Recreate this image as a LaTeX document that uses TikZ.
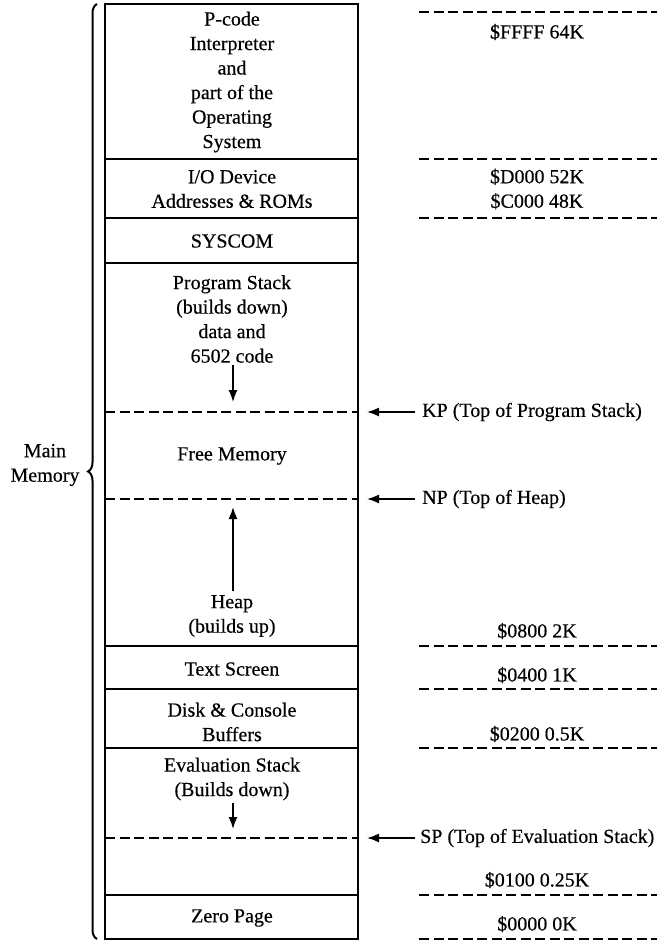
\documentclass[tikz,border=0pt]{standalone}
\usepackage{fontspec}
\setmainfont{Liberation Serif}[FakeBold=0.4]
\usetikzlibrary{decorations.pathreplacing,arrows.meta}
\begin{document}
\begin{tikzpicture}[x=1pt,y=-1pt,
  txt/.style={font=\fontsize{20}{24.5}\selectfont, align=center, inner sep=0pt},
  boxline/.style={line width=2pt},
  dline/.style={line width=1.8pt, dash pattern=on 10pt off 4.5pt},
  arr/.style={line width=1.6pt,-{Latex[length=12pt,width=9pt]}}]
\useasboundingbox (0,0) rectangle (663,942);

% main column
\draw[boxline] (105,4) rectangle (358,939);
\foreach \yy in {159,218,263,646,689,748,895}
  \draw[boxline] (105,\yy) -- (358,\yy);
\foreach \yy in {412,499,838}
  \draw[dline] (105,\yy) -- (358,\yy);

% right-hand address dashes
\foreach \yy in {12,159,218,646,689,748,895,939}
  \draw[dline] (419,\yy) -- (657,\yy);

% box texts
\node[txt] (pcode) at (232,82) {P-code\\Interpreter\\and\\part of the\\Operating\\System};
\node[txt] (io) at (232,189) {I/O Device\\Addresses \& ROMs};
\node[txt] (syscom) at (232,241) {SYSCOM};
\node[txt] (pstack) at (232,319) {Program Stack\\(builds down)\\data and\\6502 code};
\node[txt] (free) at (232,456) {Free Memory};
\node[txt] (heap) at (232,616) {Heap\\(builds up)};
\node[txt] (tscreen) at (232,669) {Text Screen};
\node[txt] (disk) at (232,722) {Disk \& Console\\Buffers};
\node[txt] (eval) at (232,779) {Evaluation Stack\\(Builds down)};
\node[txt] (zero) at (232,918) {Zero Page};

% address labels
\node[txt] (aFFFF) at (537,32) {\$FFFF 64K};
\node[txt] (aD000) at (537,189) {\$D000 52K\\\$C000 48K};
\node[txt] (a0800) at (537,631) {\$0800 2K};
\node[txt] (a0400) at (537,675) {\$0400 1K};
\node[txt] (a0200) at (537,734) {\$0200 0.5K};
\node[txt] (a0100) at (537,880) {\$0100 0.25K};
\node[txt] (a0000) at (537,924) {\$0000 0K};

% pointer labels
\node[txt, anchor=west] (kp) at (422,412) {KP (Top of Program Stack)};
\node[txt, anchor=west] (np) at (422,499) {NP (Top of Heap)};
\node[txt, anchor=west] (sp) at (420,838) {SP (Top of Evaluation Stack)};
\coordinate (kpend) at (367,412);
\coordinate (npend) at (367,499);
\coordinate (spend) at (367,838);
\draw[arr] ([xshift=-7pt]kp.west) -- (kpend);
\draw[arr] ([xshift=-7pt]np.west) -- (npend);
\draw[arr] ([xshift=-5pt]sp.west) -- (spend);

% growth arrows
\coordinate (ps1) at (233,365);
\coordinate (ps2) at (233,402);
\coordinate (hp1) at (233,591);
\coordinate (hp2) at (233,507);
\coordinate (ev1) at (233,803);
\coordinate (ev2) at (233,829);
\draw[arr] (ps1) -- (ps2);
\draw[arr] (hp1) -- (hp2);
\draw[arr] (ev1) -- (ev2);

% brace and label
\coordinate (brb) at (97,939);
\coordinate (brt) at (97,4);
\draw[line width=2pt, decorate, decoration={brace, amplitude=9pt, aspect=0.5}] (brb) -- (brt);
\node[txt] (mainmem) at (45,465) {Main\\Memory};
\end{tikzpicture}
\end{document}
